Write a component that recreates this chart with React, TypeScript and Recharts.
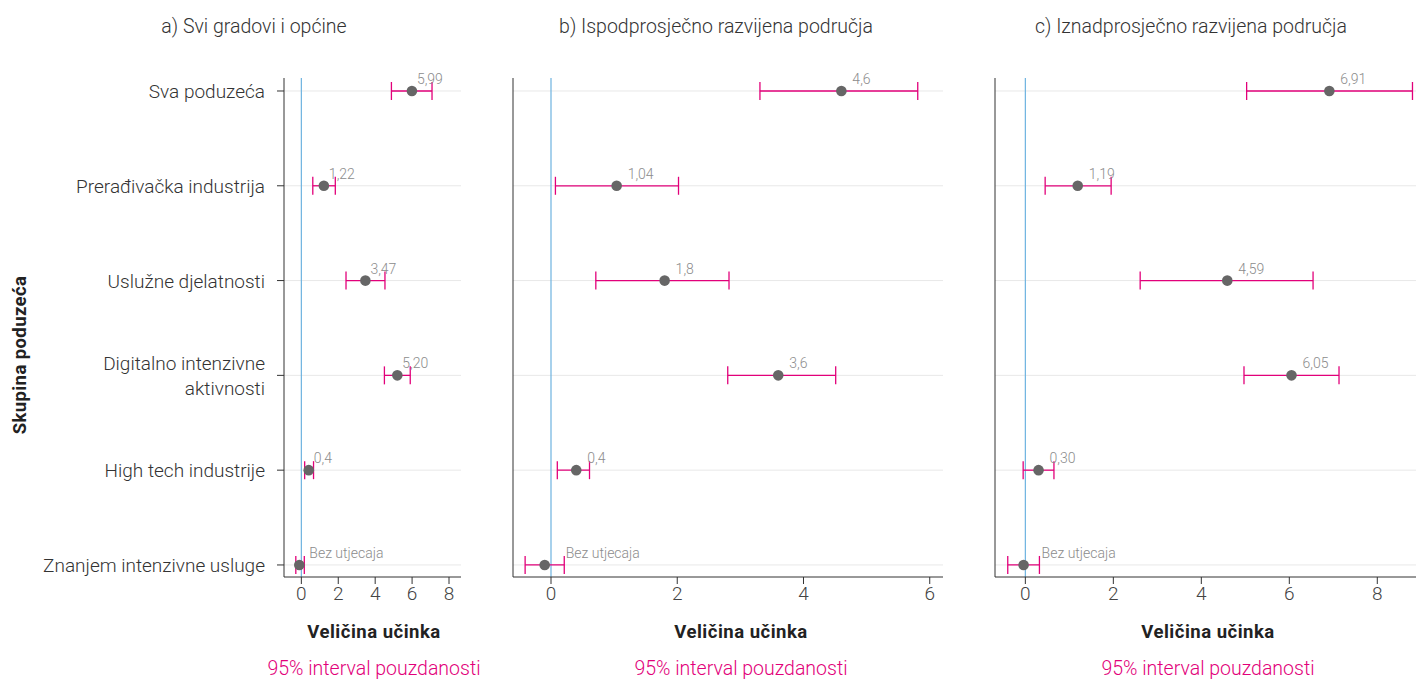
import React from 'react';
import { ScatterChart, Scatter, XAxis, YAxis, ErrorBar, ReferenceLine, LabelList } from 'recharts';

const PINK = '#e2007a';
const DOT = '#666666';
const NO_EFFECT = 'Bez utjecaja';

const categories = [
  'Sva poduzeća',
  'Prerađivačka industrija',
  'Uslužne djelatnosti',
  'Digitalno intenzivne\naktivnosti',
  'High tech industrije',
  'Znanjem intenzivne usluge',
];
const rowIndex = [0, 1, 2, 3, 4, 5];

const titles = [
  'a) Svi gradovi i općine',
  'b) Ispodprosječno razvijena područja',
  'c) Iznadprosječno razvijena područja',
];

// a) svi gradovi i općine
const estimateA = [5.99, 1.22, 3.47, 5.2, 0.4, -0.11];
const lowerA = [4.88, 0.62, 2.42, 4.5, 0.18, -0.3];
const upperA = [7.08, 1.84, 4.53, 5.9, 0.66, 0.16];
const labelA = ['5,99', '1,22', '3,47', '5,20', '0,4', NO_EFFECT];

// b) ispodprosječno razvijena
const estimateB = [4.6, 1.04, 1.8, 3.6, 0.4, -0.1];
const lowerB = [3.31, 0.07, 0.71, 2.8, 0.1, -0.41];
const upperB = [5.81, 2.02, 2.82, 4.51, 0.61, 0.21];
const labelB = ['4,6', '1,04', '1,8', '3,6', '0,4', NO_EFFECT];

// c) iznadprosječno razvijena
const estimateC = [6.91, 1.19, 4.59, 6.05, 0.3, -0.04];
const lowerC = [5.03, 0.45, 2.61, 4.97, -0.05, -0.4];
const upperC = [8.8, 1.95, 6.54, 7.13, 0.65, 0.32];
const labelC = ['6,91', '1,19', '4,59', '6,05', '0,30', NO_EFFECT];

const ticksA = [0, 2, 4, 6, 8];
const ticksB = [0, 2, 4, 6];
const ticksC = [0, 2, 4, 6, 8];

function buildRows(est: number[], lo: number[], hi: number[], lab: string[]) {
  return rowIndex.map((i) => ({
    y: i,
    x: est[i],
    err: [est[i] - lo[i], hi[i] - est[i]],
    label: lab[i],
  }));
}

function CategoryTick(props: any) {
  const { x, y, payload } = props;
  const lines = String(categories[payload.value] ?? '').split('\n');
  return (
    <text x={x} y={y} textAnchor="end" fill="#333" fontSize={19} fontWeight={300}>
      {lines.map((l, i) => (
        <tspan key={i} x={x} dy={i === 0 ? (lines.length > 1 ? -5 : 7) : 25}>
          {l}
        </tspan>
      ))}
    </text>
  );
}

function Dot(props: any) {
  return <circle cx={props.cx} cy={props.cy} r={5.3} fill={DOT} />;
}

type PanelProps = {
  left: number;
  width: number;
  yWidth: number;
  right: number;
  domain: [number, number];
  ticks: number[];
  rows: ReturnType<typeof buildRows>;
  showCategories: boolean;
  numDx: number;
  bezDx: number;
};

function Panel({ left, width, yWidth, right, domain, ticks, rows, showCategories, numDx, bezDx }: PanelProps) {
  const renderLabel = (p: any) => {
    const cx = Number(p.x) + Number(p.width || 0) / 2;
    const cy = Number(p.y) + Number(p.height || 0) / 2;
    const dx = p.value === NO_EFFECT ? bezDx : numDx;
    return (
      <text x={cx + dx} y={cy - 7} fill="#8c8c8c" fontSize={14} fontWeight={300}>
        {p.value}
      </text>
    );
  };
  return (
    <div style={{ position: 'absolute', left, top: 0 }}>
      <ScatterChart width={width} height={620} margin={{ top: 78, right, bottom: 13, left: 0 }}>
        <XAxis
          type="number"
          dataKey="x"
          domain={domain}
          ticks={ticks}
          allowDataOverflow
          height={30}
          tickSize={7}
          tickMargin={3}
          stroke="#333"
          tick={{ fill: '#444', fontSize: 19, fontWeight: 300 }}
        />
        <YAxis
          type="number"
          dataKey="y"
          domain={[-0.137, 5.127]}
          ticks={rowIndex}
          reversed
          width={yWidth}
          tickSize={7}
          tickMargin={12}
          stroke="#333"
          tick={showCategories ? <CategoryTick /> : false}
          tickLine
        />
        {rowIndex.map((i) => (
          <ReferenceLine key={i} y={i} stroke="#e8e8e8" />
        ))}
        <ReferenceLine x={0} stroke="#6db3e0" strokeWidth={1.2} />
        <Scatter data={rows} shape={() => <g />} isAnimationActive={false}>
          <ErrorBar dataKey="err" direction="x" width={9} stroke={PINK} strokeWidth={1.3} isAnimationActive={false} />
        </Scatter>
        <Scatter data={rows} shape={<Dot />} isAnimationActive={false}>
          <LabelList dataKey="label" content={renderLabel} />
        </Scatter>
      </ScatterChart>
    </div>
  );
}

const textBase: React.CSSProperties = {
  position: 'absolute',
  transform: 'translateX(-50%)',
  whiteSpace: 'nowrap',
  textAlign: 'center',
};

export default function App() {
  const rowsA = buildRows(estimateA, lowerA, upperA, labelA);
  const rowsB = buildRows(estimateB, lowerB, upperB, labelB);
  const rowsC = buildRows(estimateC, lowerC, upperC, labelC);
  const centers = [374, 741, 1208];
  const titleCenters = [254, 716, 1191];
  return (
    <div
      style={{
        position: 'absolute',
        left: 0,
        top: 0,
        width: 1416,
        height: 680,
        background: '#fff',
        overflow: 'hidden',
        fontFamily: 'Roboto, "Open Sans", sans-serif',
      }}
    >
      <Panel left={0} width={470} yWidth={284} right={9} domain={[-0.94, 8.65]} ticks={ticksA} rows={rowsA} showCategories numDx={5} bezDx={10} />
      <Panel left={490} width={460} yWidth={23} right={7} domain={[-0.602, 6.21]} ticks={ticksB} rows={rowsB} showCategories={false} numDx={11} bezDx={21} />
      <Panel left={972} width={444} yWidth={23} right={0} domain={[-0.69, 8.88]} ticks={ticksC} rows={rowsC} showCategories={false} numDx={11} bezDx={18} />

      {titles.map((t, i) => (
        <div key={t} style={{ ...textBase, left: titleCenters[i], top: 16, fontSize: 19.5, lineHeight: '22px', color: '#333', fontWeight: 300 }}>
          {t}
        </div>
      ))}
      {centers.map((c) => (
        <div key={'x' + c} style={{ ...textBase, left: c, top: 621, fontSize: 18.5, lineHeight: '22px', color: '#222', fontWeight: 700, letterSpacing: 0.5 }}>
          Veličina učinka
        </div>
      ))}
      {centers.map((c) => (
        <div key={'ci' + c} style={{ ...textBase, left: c, top: 657, fontSize: 19.5, lineHeight: '24px', color: PINK, fontWeight: 300 }}>
          95% interval pouzdanosti
        </div>
      ))}
      <div
        style={{
          position: 'absolute',
          left: 20,
          top: 355,
          transform: 'translate(-50%, -50%) rotate(-90deg)',
          whiteSpace: 'nowrap',
          fontSize: 18.5,
          lineHeight: '22px',
          fontWeight: 700,
          color: '#222',
          letterSpacing: 0.4,
        }}
      >
        Skupina poduzeća
      </div>
    </div>
  );
}
